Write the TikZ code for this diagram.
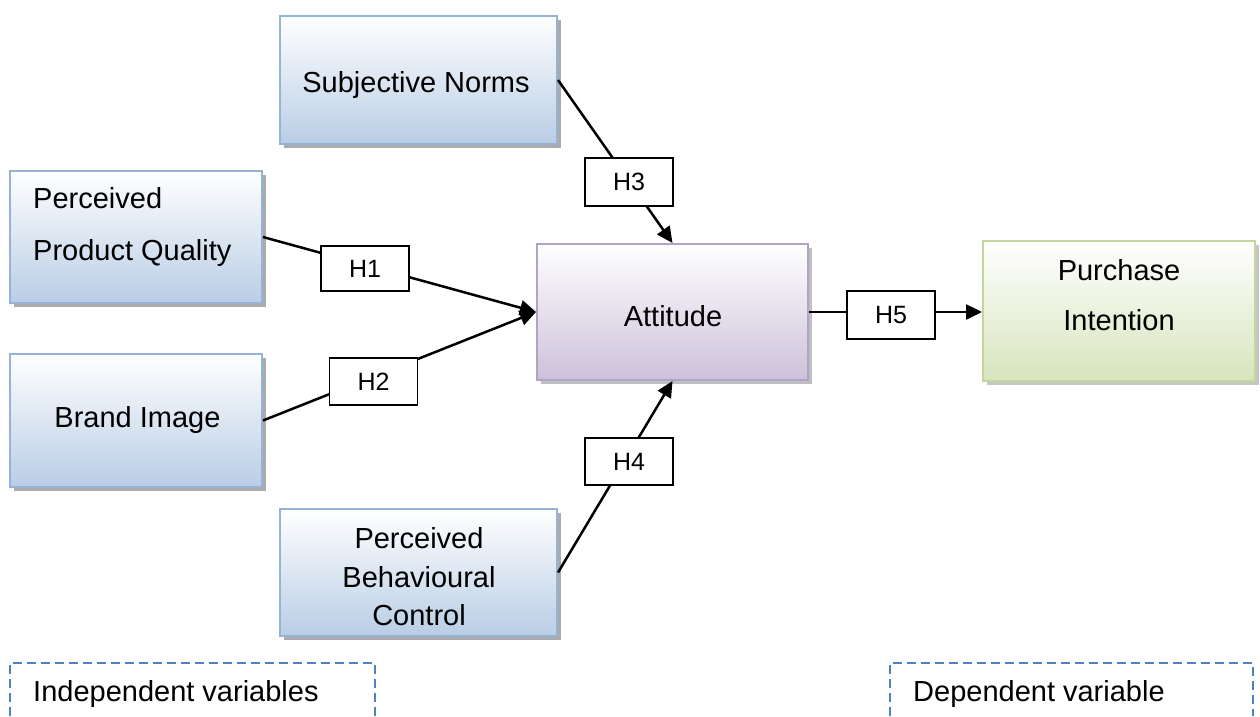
\documentclass[tikz,border=0pt]{standalone}
\usepackage{fontspec}
\setmainfont{Liberation Sans}
\usetikzlibrary{arrows.meta,shadows}

\definecolor{blueedge}{HTML}{95B3D7}
\definecolor{bluefill}{HTML}{B9CDE5}
\definecolor{purpleedge}{HTML}{B3A2C7}
\definecolor{purplefill}{HTML}{CCC1DA}
\definecolor{greenedge}{HTML}{C3D69B}
\definecolor{greenfill}{HTML}{D7E4BD}
\definecolor{dashblue}{HTML}{4F81BD}

\tikzset{
  basebox/.style={rectangle, line width=2pt},
  bluebox/.style={basebox, draw=blueedge, top color=white, bottom color=bluefill,
    drop shadow={shadow xshift=4pt, shadow yshift=-4pt, fill=black!60, opacity=0.55}},
  purplebox/.style={basebox, draw=purpleedge, top color=white, bottom color=purplefill,
    drop shadow={shadow xshift=4pt, shadow yshift=-4pt, fill=black!50, opacity=0.5}},
  greenbox/.style={basebox, draw=greenedge, top color=white, bottom color=greenfill,
    drop shadow={shadow xshift=4pt, shadow yshift=-4pt, fill=black!45, opacity=0.5}},
  hbox/.style={rectangle, draw=black, line width=1.5pt, fill=white,
    minimum width=88pt, minimum height=47pt, font=\fontsize{25}{30}\selectfont},
  conn/.style={line width=2.5pt, -{Triangle[length=16pt, width=15pt]}},
  boxtext/.style={font=\fontsize{29}{35}\selectfont, inner sep=0pt},
  dashbox/.style={draw=dashblue, line width=2.2pt, dash pattern=on 9pt off 5pt}
}

\begin{document}
\begin{tikzpicture}[x=1pt, y=-1pt]
  \useasboundingbox (0,0) rectangle (1260,716);

  % construct boxes
  \node[bluebox, minimum width=277pt, minimum height=128pt] (sn) at (418.5,80) {};
  \node[bluebox, minimum width=252pt, minimum height=132pt] (ppq) at (136,237) {};
  \node[bluebox, minimum width=252pt, minimum height=133pt] (bi) at (136,420.5) {};
  \node[bluebox, minimum width=277pt, minimum height=127pt] (pbc) at (418.5,572.5) {};
  \node[purplebox, minimum width=271pt, minimum height=136pt] (att) at (672.5,312) {};
  \node[greenbox, minimum width=272pt, minimum height=140pt] (pi) at (1119,311) {};

  % construct labels
  \node[boxtext, anchor=base] (sntext) at (416,92.5) {Subjective Norms};
  \node[boxtext, anchor=base] (bitext) at (137.5,427) {Brand Image};
  \node[boxtext, anchor=base] (atttext) at (673,326.5) {Attitude};
  \node[boxtext, anchor=west, align=left, font=\fontsize{29}{52}\selectfont] (ppqtext) at (33,226.8) {Perceived\\Product Quality};
  \node[boxtext, align=center, font=\fontsize{29}{38.5}\selectfont] (pbctext) at (419,577) {Perceived\\Behavioural\\Control};
  \node[boxtext, align=center, font=\fontsize{29}{50}\selectfont] (pitext) at (1119,295) {Purchase\\Intention};

  % paths of the hypotheses
  \draw[conn] (ppq.east) -- (att.west);
  \draw[conn] (bi.east) -- (att.west);
  \draw[conn] (sn.east) -- (att.north);
  \draw[conn] (pbc.east) -- (att.south);
  \draw[conn] (att.east) -- (att.east -| pi.west);

  % hypothesis labels
  \node[hbox, minimum height=45pt] (h1) at (365,268.5) {H1};
  \node[hbox] (h2) at (373.5,381.5) {H2};
  \node[hbox, minimum height=48pt] (h3) at (629,182) {H3};
  \node[hbox] (h4) at (629,461.5) {H4};
  \node[hbox, minimum height=48pt] (h5) at (891,315) {H5};

  % legend frames
  \coordinate (il) at (10,716);
  \coordinate (ir) at (375,716);
  \coordinate (dl) at (890,716);
  \coordinate (dr) at (1253,716);
  \draw[dashbox] (il) -- (10,663) -- (375,663) -- (ir);
  \draw[dashbox] (dl) -- (890,663) -- (1253,663) -- (dr);
  \node[boxtext, anchor=base west] (indep) at (33,701.5) {Independent variables};
  \node[boxtext, anchor=base west] (dep) at (913,701) {Dependent variable};
\end{tikzpicture}
\end{document}
